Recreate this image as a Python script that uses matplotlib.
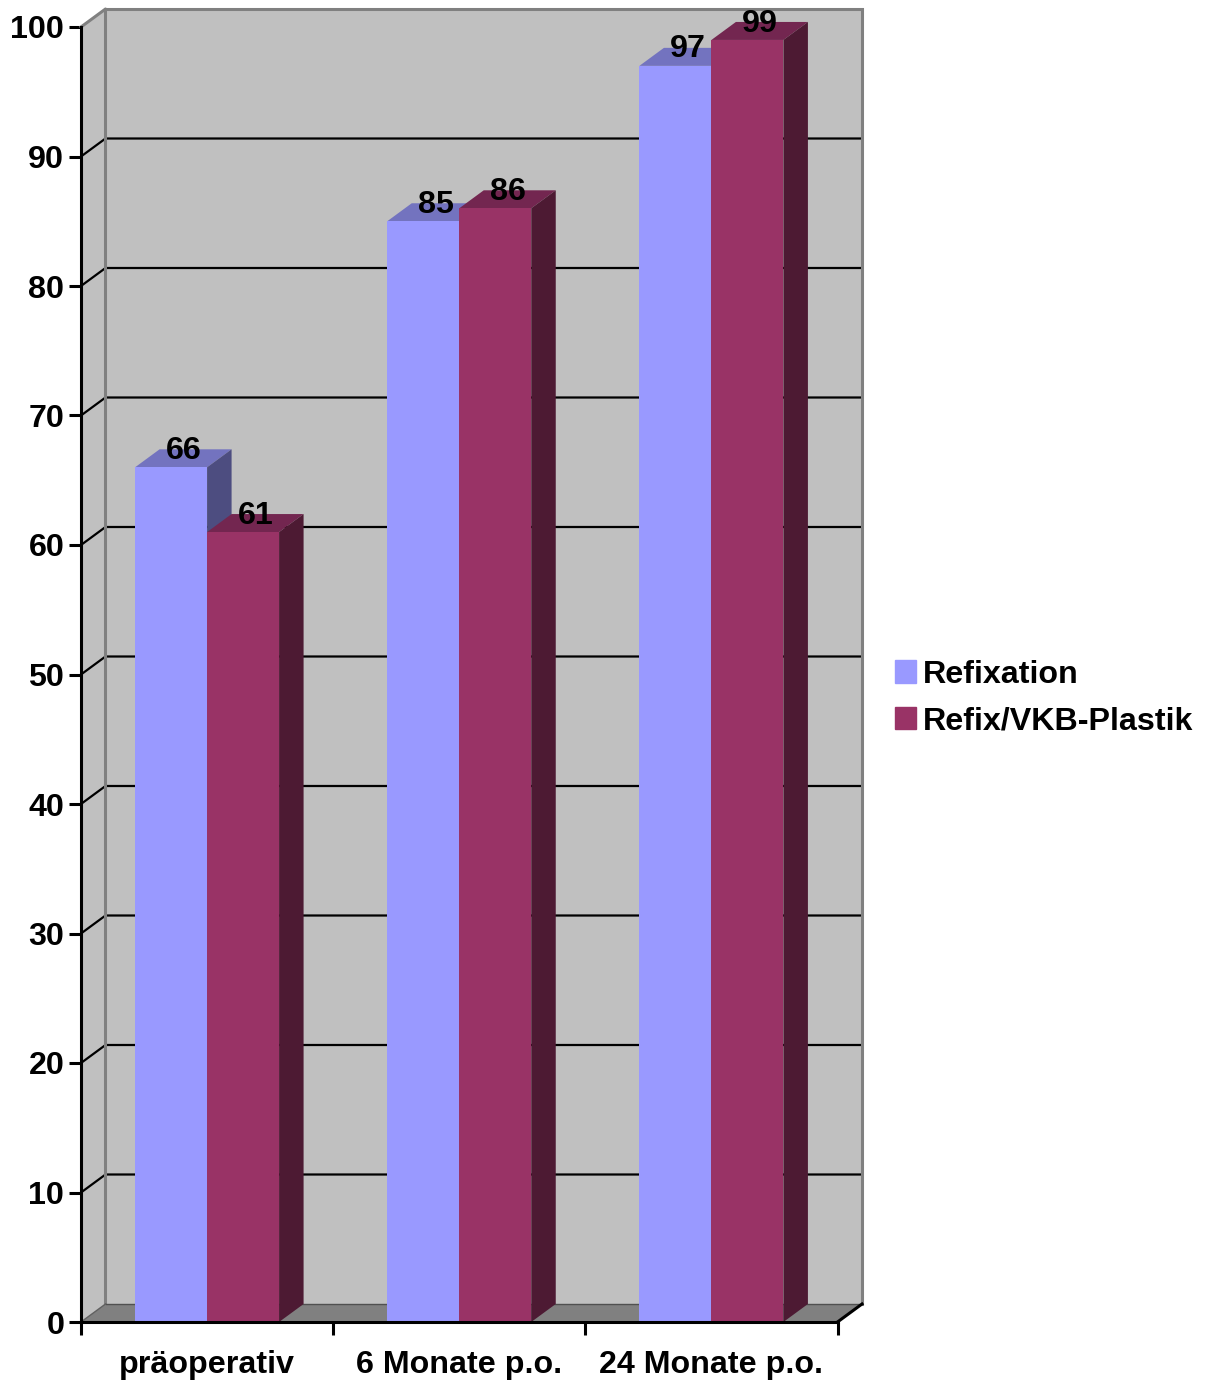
import matplotlib

matplotlib.use("Agg")
import matplotlib.pyplot as plt
from matplotlib.patches import Patch, Polygon

plt.rcParams["font.family"] = ["Liberation Sans", "DejaVu Sans"]
plt.rcParams["font.weight"] = "bold"

# --- Data --------------------------------------------------------------------
CATEGORIES = ["präoperativ", "6 Monate p.o.", "24 Monate p.o."]
SERIES_NAMES = ["Refixation", "Refix/VKB-Plastik"]
REFIXATION = [66, 85, 97]
REFIX_VKB = [61, 86, 99]
Y_TICKS = list(range(0, 101, 10))

# front, top, side shades per series
SHADES = [
    ("#9999FF", "#7373BF", "#4D4D80"),
    ("#993366", "#732650", "#4D1A33"),
]
WALL = "#C0C0C0"
EDGE = "#808080"

W, H = 1211, 1384
AX_L, AX_R, AX_T, AX_B = 81, 837.5, 27, 1322

# 3D depth of the box, expressed in data units
DX = 24.5 / ((AX_R - AX_L) / 3)
DY = 18.0 / ((AX_B - AX_T) / 100)
BAR_W = 72 / ((AX_R - AX_L) / 3)


def add_poly(ax, pts, color, z, edge=None, lw=0.0):
    ax.add_patch(Polygon(pts, closed=True, facecolor=color, edgecolor=edge or color,
                         linewidth=lw, zorder=z, clip_on=False))


def draw_box(ax):
    """Back wall, side wall, floor and the gridlines running over them."""
    add_poly(ax, [(DX, DY), (3 + DX, DY), (3 + DX, 100 + DY), (DX, 100 + DY)], WALL, 1)
    add_poly(ax, [(0, 0), (DX, DY), (DX, 100 + DY), (0, 100)], WALL, 1)
    add_poly(ax, [(0, 0), (3, 0), (3 + DX, DY), (DX, DY)], EDGE, 1)

    for v in Y_TICKS[1:-1]:
        ax.plot([0, DX, 3 + DX], [v, v + DY, v + DY], color="black", lw=1.6,
                zorder=1.5, clip_on=False, solid_joinstyle="miter")

    # grey frame of the walls
    ax.plot([0, DX, DX], [100, 100 + DY, DY], color=EDGE, lw=2.2, zorder=1.6, clip_on=False)
    ax.plot([DX, 3 + DX, 3 + DX], [100 + DY, 100 + DY, DY], color=EDGE, lw=2.2,
            zorder=1.6, clip_on=False, solid_joinstyle="miter")
    ax.plot([0, DX], [0, DY], color="#606060", lw=1.0, zorder=1.6, clip_on=False)
    ax.plot([DX, 3 + DX], [DY, DY], color="#505050", lw=1.0, zorder=1.6, clip_on=False)
    ax.plot([3, 3 + DX], [0, DY], color="black", lw=2.2, zorder=1.6, clip_on=False)


def draw_bar(ax, x0, value, shades, z):
    front, top, side = shades
    x1 = x0 + BAR_W
    add_poly(ax, [(x0, value), (x1, value), (x1 + DX, value + DY), (x0 + DX, value + DY)], top, z)
    add_poly(ax, [(x1, 0), (x1 + DX, DY), (x1 + DX, value + DY), (x1, value)], side, z)
    add_poly(ax, [(x0, 0), (x1, 0), (x1, value), (x0, value)], front, z)


def main():
    fig = plt.figure(figsize=(W / 100, H / 100), dpi=100, facecolor="white")
    ax = fig.add_axes([AX_L / W, 1 - AX_B / H, (AX_R - AX_L) / W, (AX_B - AX_T) / H])
    ax.set_xlim(0, 3)
    ax.set_ylim(0, 100)
    ax.patch.set_alpha(0)
    draw_box(ax)

    z = 2.0
    for i in range(len(CATEGORIES)):
        for j, vals in enumerate([REFIXATION, REFIX_VKB]):
            x0 = i + 0.5 - BAR_W + j * BAR_W
            draw_bar(ax, x0, vals[i], SHADES[j], z)
            z += 0.01
            ax.annotate(str(vals[i]), (x0 + BAR_W / 2 + DX / 2, vals[i] + DY),
                        xytext=(0, 1.4), textcoords="offset points", ha="center",
                        va="center_baseline", fontsize=23.2, fontweight="bold",
                        color="black", zorder=5, annotation_clip=False)

    for name in ["top", "right"]:
        ax.spines[name].set_visible(False)
    for name in ["left", "bottom"]:
        ax.spines[name].set_linewidth(2.2)
        ax.spines[name].set_zorder(4)

    ax.set_yticks(Y_TICKS)
    ax.set_xticks([0, 1, 2, 3])
    ax.set_xticklabels([])
    ax.set_xticks([0.5, 1.5, 2.5], minor=True)
    ax.set_xticklabels(CATEGORIES, minor=True)
    ax.tick_params(axis="y", length=9, width=2.2, labelsize=23.2, pad=3)
    ax.tick_params(axis="x", which="major", length=9, width=2.2)
    ax.tick_params(axis="x", which="minor", length=0, labelsize=23.2, pad=20.5)

    handles = [Patch(facecolor=SHADES[k][0], edgecolor=SHADES[k][0], label=SERIES_NAMES[k])
               for k in range(2)]
    fig.legend(handles=handles, loc="center left", bbox_to_anchor=(885 / W, 1 - 698 / H),
               frameon=False, fontsize=23.2, handlelength=0.66, handleheight=0.69,
               handletextpad=0.22, labelspacing=0.51, borderpad=0.3, borderaxespad=0)

    fig.savefig("out.png", dpi=100)
    plt.close(fig)


if __name__ == "__main__":
    main()
